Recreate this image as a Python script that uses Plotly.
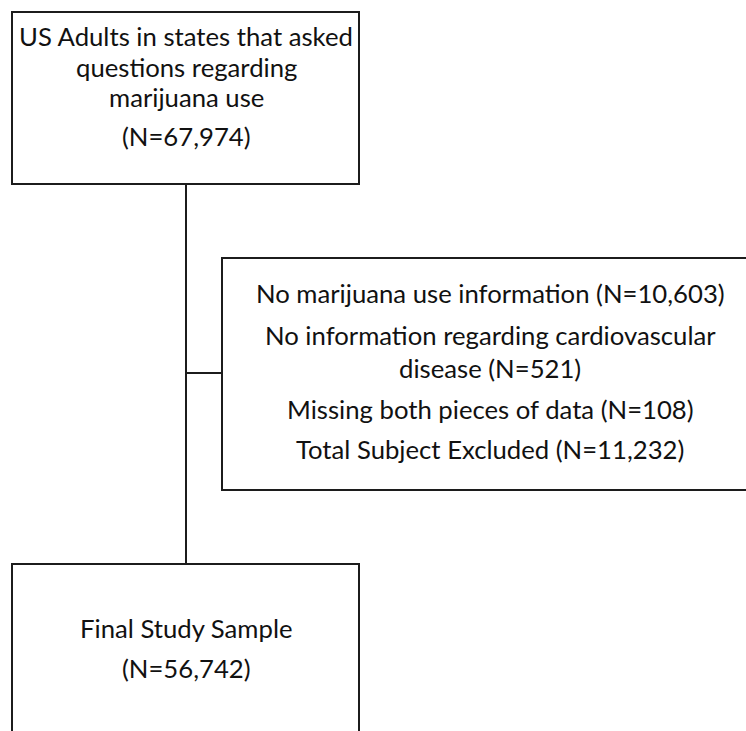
import plotly.graph_objects as go

# ---- data (text content of the flow chart) ----
total_n = 67974
excluded_labels = ["No marijuana use information", "No information regarding cardiovascular<br>disease",
                   "Missing both pieces of data", "Total Subject Excluded"]
excluded_n = [10603, 521, 108, 11232]
final_n = 56742
top_lines = ["US Adults in states that asked", "questions regarding", "marijuana use"]
final_lines = ["Final Study Sample"]

def fmt(n):
    return "(N={:,})".format(n)

# ---- layout constants (pixel space) ----
W, H = 746, 731
FONT = "Lato"
FS = 25.7
LINE_COLOR = "#1c1c1c"
LW = 2

fig = go.Figure()

def box(x0, y0, x1, y1):
    fig.add_shape(type="rect", x0=x0, y0=y0, x1=x1, y1=y1, xref="x", yref="y",
                  line=dict(color=LINE_COLOR, width=LW), fillcolor="rgba(0,0,0,0)")

def line(x0, y0, x1, y1):
    fig.add_shape(type="line", x0=x0, y0=y0, x1=x1, y1=y1, xref="x", yref="y",
                  line=dict(color=LINE_COLOR, width=LW))

def text(x, baseline, s):
    fig.add_annotation(x=x, y=baseline - 0.36 * FS, text=s, showarrow=False,
                       xref="x", yref="y", xanchor="center", yanchor="middle",
                       font=dict(family=FONT, size=FS, color="#111111"))

# boxes and connectors
box(12, 12, 359, 184)
box(222, 258, 770, 490)
box(12, 564, 359, 760)
line(186, 184, 186, 564)
line(186, 373, 222, 373)

# top box text
top_baselines = [45, 76, 106, 145]
for s, b in zip(top_lines + [fmt(total_n)], top_baselines):
    text(186, b, s)

# excluded box text
ex_cx = 490
ex_text = []
for lab, n in zip(excluded_labels, excluded_n):
    parts = (lab + " " + fmt(n)).split("<br>")
    ex_text.extend(parts)
ex_baselines = [302, 344, 377, 418, 458]
for s, b in zip(ex_text, ex_baselines):
    text(ex_cx, b, s)

# final box text
final_baselines = [637, 677]
for s, b in zip(final_lines + [fmt(final_n)], final_baselines):
    text(186, b, s)

fig.update_xaxes(range=[0, W], visible=False, fixedrange=True)
fig.update_yaxes(range=[H, 0], visible=False, fixedrange=True)
fig.update_layout(width=W, height=H, margin=dict(l=0, r=0, t=0, b=0),
                  plot_bgcolor="white", paper_bgcolor="white", showlegend=False)

fig.write_html("out.html", config={"displayModeBar": False},
               post_script="document.body.style.margin='0';document.body.style.overflow='hidden';")
